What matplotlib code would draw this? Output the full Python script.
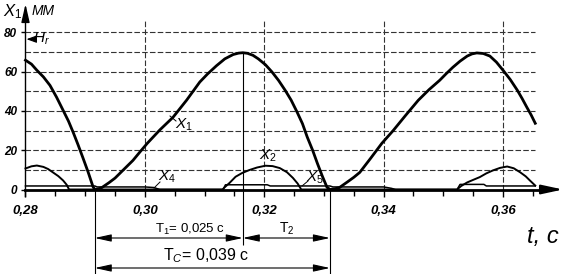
import matplotlib
matplotlib.use('Agg')
import matplotlib.pyplot as plt
from matplotlib.ticker import FixedLocator

# ---------------- data ----------------
t_ticks = [0.28, 0.30, 0.32, 0.34, 0.36]
t_tick_labels = ['0,28', '0,30', '0,32', '0,34', '0,36']
t_minor = [0.285, 0.29, 0.295, 0.305, 0.31, 0.315, 0.325, 0.33, 0.335,
           0.345, 0.35, 0.355, 0.365]
x_ticks = [0, 20, 40, 60, 80]
x_tick_labels = ['0', '20', '40', '60', '80']
grid_levels = [10, 20, 30, 40, 50, 60, 70, 80]

# X1 - displacement, mm
x1_t = [0.2800, 0.2810, 0.2819, 0.2830, 0.2841, 0.2852, 0.2863, 0.2872,
        0.2880, 0.2888, 0.2896, 0.2905, 0.2913, 0.2916,
        0.2922, 0.2928, 0.2940, 0.2950, 0.2958, 0.2970, 0.2980, 0.2992,
        0.3004, 0.3025, 0.3047, 0.3070, 0.3092, 0.3105, 0.3120, 0.3134,
        0.3148, 0.3157, 0.3164, 0.3172, 0.3181, 0.3190, 0.3202, 0.3213,
        0.3224, 0.3235, 0.3245, 0.3255, 0.3264, 0.3272, 0.3281, 0.3289,
        0.3297, 0.3305, 0.3310,
        0.3318, 0.3326, 0.3340, 0.3350, 0.3360, 0.3378, 0.3397, 0.3416,
        0.3437, 0.3458, 0.3476, 0.3494, 0.3505, 0.3516, 0.3528, 0.3540,
        0.3548, 0.3556, 0.3567, 0.3578, 0.3589, 0.3600, 0.3612, 0.3624,
        0.3632, 0.3640, 0.3647, 0.3654]
x1_v = [65.8, 63.8, 60.7, 57.3, 53.0, 47.0, 40.3, 34.8,
        29.0, 22.8, 16.3, 8.8, 1.5, 0.0,
        0.3, 1.0, 3.5, 5.8, 8.2, 11.8, 14.8, 19.2,
        23.5, 30.3, 36.7, 45.5, 54.7, 58.8, 63.0, 66.5,
        68.7, 69.4, 69.6, 69.3, 68.3, 66.5, 63.5, 59.8,
        55.5, 50.5, 45.5, 39.4, 33.5, 26.7, 20.0, 13.3,
        7.0, 1.2, 0.0,
        0.3, 1.0, 4.0, 6.2, 8.7, 15.8, 23.5, 30.0,
        37.8, 45.4, 50.8, 55.6, 59.0, 62.2, 65.3, 67.9,
        69.0, 69.5, 69.2, 67.9, 64.8, 60.7, 56.0, 50.5,
        46.3, 41.8, 38.0, 33.7]

# X2
x2_t = [0.2800, 0.2810, 0.2819, 0.2830, 0.2838, 0.2846, 0.2855, 0.2863, 0.2869, 0.2873,
        0.3130, 0.3135, 0.3142, 0.3152, 0.3163, 0.3175, 0.3188, 0.3202, 0.3214,
        0.3226, 0.3238, 0.3248, 0.3256, 0.3262,
        0.3523, 0.3530, 0.3540, 0.3550, 0.3561, 0.3572, 0.3583, 0.3595, 0.3607,
        0.3618, 0.3629, 0.3638, 0.3645, 0.3654]
x2_v = [10.7, 11.8, 12.2, 11.5, 10.4, 8.7, 6.8, 4.6, 2.4, 0.0,
        0.0, 1.5, 3.4, 6.5, 8.4, 9.9, 11.2, 12.1, 11.9,
        10.9, 8.8, 5.9, 3.0, 0.0,
        0.0, 1.8, 3.6, 4.9, 6.3, 8.2, 9.7, 11.0, 11.7,
        10.8, 8.7, 6.7, 4.6, 2.0]

# X4 / X5 (low curves)
x45_t = [0.2800, 0.2916, 0.2920, 0.3000, 0.3015, 0.3025,
         0.3131, 0.3135, 0.3205, 0.3210, 0.3310, 0.3315, 0.3400, 0.3413, 0.3420,
         0.3523, 0.3528, 0.3568, 0.3572, 0.3654]
x45_v = [1.8, 1.8, 1.3, 1.3, 1.0, 0.0,
         0.0, 2.4, 2.4, 1.8, 1.8, 1.3, 1.3, 0.6, 0.0,
         0.0, 2.6, 2.6, 1.8, 1.8]

Hr_level = 76.5
t_start = 0.2916   # X1 minimum
t_peak = 0.3164    # X1 maximum
t_end = 0.3310     # next X1 minimum
peak_value = 69.6
T1_label = 'T$_1$= 0,025 с'
T2_label = 'T$_2$'
Tc_label = 'T$_C$= 0,039 с'

# ---------------- layout helpers (pixel -> data) ----------------
PX_PER_T = 5969.0
PX_PER_V = 1.965
def tx(px):
    return 0.28 + (px - 25.5) / PX_PER_T
def vy(py):
    return (189.5 - py) / PX_PER_V

plt.rcParams['mathtext.fontset'] = 'custom'
plt.rcParams['mathtext.rm'] = 'Liberation Sans'
plt.rcParams['mathtext.it'] = 'Liberation Sans:italic'
plt.rcParams['mathtext.bf'] = 'Liberation Sans:bold'

SANS = ['Liberation Sans', 'DejaVu Sans']

fig = plt.figure(figsize=(5.64, 2.74), dpi=100)
ax = fig.add_axes([0, 0, 1, 1])
ax.set_xlim(tx(0), tx(564))
ax.set_ylim(vy(274), vy(0))
ax.patch.set_visible(False)

for s in ['top', 'right']:
    ax.spines[s].set_visible(False)
ax.spines['left'].set_position(('data', 0.28))
ax.spines['bottom'].set_position(('data', 0))
ax.spines['bottom'].set_bounds(0.28, tx(550))
ax.spines['bottom'].set_linewidth(2.0)
ax.spines['left'].set_bounds(vy(196), vy(12))
ax.spines['left'].set_linewidth(1.0)

ax.xaxis.set_major_locator(FixedLocator(t_ticks))
ax.xaxis.set_minor_locator(FixedLocator(t_minor))
ax.set_xticklabels(t_tick_labels)
ax.yaxis.set_major_locator(FixedLocator(x_ticks))
ax.set_yticklabels(x_tick_labels)
ax.tick_params(axis='x', which='major', direction='out', length=5, width=1, pad=6)
ax.tick_params(axis='x', which='minor', direction='out', length=4, width=1)
ax.tick_params(axis='y', which='major', direction='out', length=3, width=1, pad=3)
for lab in ax.get_xticklabels():
    lab.set_fontfamily(SANS); lab.set_fontsize(9.5)
    lab.set_fontweight('bold'); lab.set_fontstyle('italic')
for lab in ax.get_yticklabels():
    lab.set_fontfamily(SANS); lab.set_fontsize(8.5)
    lab.set_fontweight('bold'); lab.set_fontstyle('italic')

# axis arrows
ax.annotate('', xy=(tx(563), 0), xytext=(tx(540), 0),
            arrowprops=dict(arrowstyle='-|>,head_length=1.3,head_width=0.28',
                            mutation_scale=10, lw=1.5, color='black',
                            shrinkA=0, shrinkB=0))
ax.annotate('', xy=(0.28, vy(4)), xytext=(0.28, vy(20)),
            arrowprops=dict(arrowstyle='-|>,head_length=1.1,head_width=0.25',
                            mutation_scale=10, lw=1.0, color='black',
                            shrinkA=0, shrinkB=0))

# grid
dash = (0, (5, 2))
ax.hlines(grid_levels, 0.28, tx(535), colors='#333333', lw=0.8, linestyles=dash, zorder=1)
ax.vlines(t_ticks[1:], 0, vy(21), colors='#333333', lw=0.8, linestyles=dash, zorder=1)

# curves
ax.plot(x45_t, x45_v, color='black', lw=1.1, zorder=3)
ax.plot(x2_t, x2_v, color='black', lw=1.4, zorder=3, solid_joinstyle='round')
ax.plot(x1_t, x1_v, color='black', lw=2.0, zorder=4, solid_joinstyle='round')

# curve labels
lab_kw = dict(fontsize=11, ha='center', va='center', color='black')
ax.text(tx(184), vy(125), r'$X_1$', **lab_kw)
ax.plot([tx(170), tx(176)], [vy(116), vy(121)], color='black', lw=0.7)
ax.text(tx(268), vy(156), r'$X_2$', **lab_kw)
ax.text(tx(167), vy(177), r'$X_4$', **lab_kw)
ax.plot([tx(154), tx(160)], [vy(188), vy(182)], color='black', lw=0.7)
ax.text(tx(315), vy(178), r'$X_5$', **lab_kw)
ax.plot([tx(302), tx(308)], [vy(186), vy(181)], color='black', lw=0.7)

# y axis label and H_r mark
ax.text(tx(3), vy(12), r'$X_1$', fontsize=12, ha='left', va='center')
ax.text(tx(32), vy(11), 'ММ', fontsize=10, ha='left', va='center',
        family=SANS, style='italic')
ax.annotate('', xy=(tx(26.5), Hr_level), xytext=(tx(32), Hr_level),
            arrowprops=dict(arrowstyle='-|>,head_length=0.6,head_width=0.22',
                            mutation_scale=10, lw=0.8, color='black',
                            shrinkA=0, shrinkB=0))
ax.text(tx(33), Hr_level, r'$H_r$', fontsize=11, ha='left', va='center')

# time axis label
ax.text(tx(543), vy(237), 't, с', fontsize=17, ha='center', va='center',
        family=SANS, style='italic')

# dimension lines
thin = dict(color='black', lw=0.8)
ax.vlines([t_start, t_end], vy(274), 0, **thin)
ax.vlines(t_peak, vy(245), peak_value, **thin)
y_t1 = vy(238)
y_tc = vy(268)
arr = dict(arrowstyle='<|-|>,head_length=1.0,head_width=0.22', mutation_scale=10,
           lw=0.8, color='black', shrinkA=0, shrinkB=0)
ax.annotate('', xy=(t_start, y_t1), xytext=(t_peak, y_t1), arrowprops=arr)
ax.annotate('', xy=(t_peak, y_t1), xytext=(t_end, y_t1), arrowprops=arr)
ax.annotate('', xy=(t_start, y_tc), xytext=(t_end, y_tc), arrowprops=arr)
ax.text(tx(190), vy(229), T1_label, fontsize=9.5, ha='center', va='center', family=SANS)
ax.text(tx(287), vy(229), T2_label, fontsize=10, ha='center', va='center', family=SANS)
ax.text(tx(206), vy(256), Tc_label, fontsize=11.5, ha='center', va='center', family=SANS)

fig.savefig('out.png', dpi=100)
